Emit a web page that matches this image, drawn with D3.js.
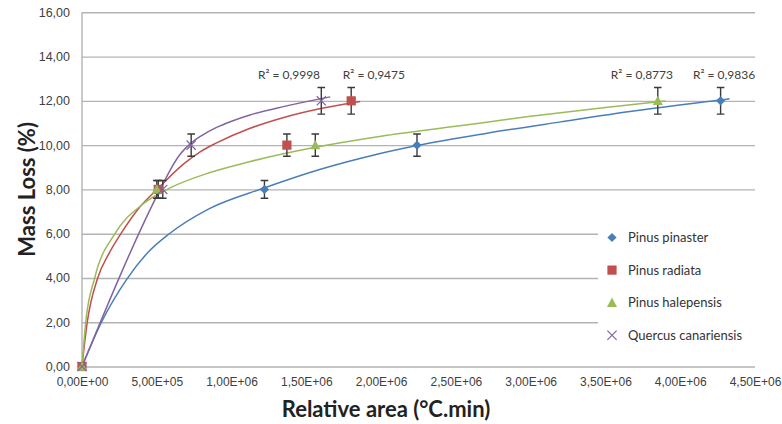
<!DOCTYPE html>
<html>
<head>
<meta charset="utf-8">
<script src="https://cdn.jsdelivr.net/npm/d3@7"></script>
<style>
  html, body { margin: 0; padding: 0; background: #fff; }
  svg { display: block; font-family: Lato, "Open Sans", sans-serif; }
</style>
</head>
<body>
<svg id="chart" width="782" height="424"></svg>
<script>
// ---------------- DATA ----------------
const seriesNames = ["Pinus pinaster", "Pinus radiata", "Pinus halepensis", "Quercus canariensis"];
const massLoss = [0, 8, 10, 12];                 // y values shared by all series (%)
const errorBars = [0, 0.4, 0.5, 0.6];            // ± error (%)
const areaPinaster   = [0, 1.22e6, 2.24e6, 4.27e6];
const areaRadiata    = [0, 0.51e6, 1.37e6, 1.80e6];
const areaHalepensis = [0, 0.50e6, 1.56e6, 3.85e6];
const areaQuercus    = [0, 0.54e6, 0.73e6, 1.60e6];

// trendline curves as [area, mass loss]
const trendPinaster = [[0,0],[0.13e6,2.0],[0.30e6,3.95],[0.44e6,5.15],[0.588e6,6.02],[0.842e6,7.1],
  [1.217e6,8.06],[1.6e6,8.92],[1.926e6,9.51],[2.24e6,9.98],[2.7e6,10.53],[3.2e6,11.05],[3.7e6,11.55],
  [4.27e6,12.04],[4.33e6,12.09]];
const trendRadiata = [[0,0],[0.035e6,2.0],[0.105e6,4.0],[0.18e6,5.1],[0.26e6,6.0],[0.38e6,7.15],
  [0.51e6,8.05],[0.68e6,9.15],[0.79e6,9.7],[0.90e6,10.1],[1.12e6,10.75],[1.35e6,11.25],[1.58e6,11.63],
  [1.86e6,11.97]];
const trendHalepensis = [[0,0],[0.025e6,2.0],[0.085e6,4.0],[0.22e6,6.0],[0.40e6,7.3],[0.60e6,8.1],
  [0.85e6,8.75],[1.12e6,9.25],[1.56e6,9.9],[2.0e6,10.4],[2.5e6,10.85],[3.0e6,11.3],[3.5e6,11.7],
  [3.9e6,12.0]];
const trendQuercus = [[0,0],[0.53e6,8.1],[0.60e6,9.0],[0.66e6,9.62],[0.727e6,10.08],[0.80e6,10.43],
  [0.90e6,10.8],[1.0e6,11.08],[1.123e6,11.36],[1.346e6,11.74],[1.6e6,12.1],[1.66e6,12.18]];

const rSquared = ["0,9836", "0,9475", "0,8773", "0,9998"];
const rLabelArea = [4.293e6, 1.952e6, 3.744e6, 1.384e6];   // where each R² label sits (x)
const rLabelMass = 13.17;                                  // label height (y)

const xTicks = [0, 5e5, 1e6, 1.5e6, 2e6, 2.5e6, 3e6, 3.5e6, 4e6, 4.5e6];
const xTickLabels = ["0,00E+00","5,00E+05","1,00E+06","1,50E+06","2,00E+06","2,50E+06","3,00E+06","3,50E+06","4,00E+06","4,50E+06"];
const yTicks = [0, 2, 4, 6, 8, 10, 12, 14, 16];
const yTickLabels = ["0,00","2,00","4,00","6,00","8,00","10,00","12,00","14,00","16,00"];

// ---------------- LAYOUT ----------------
const W = 782, H = 424;
const margin = { left: 82, right: 27, top: 12.3, bottom: 57.5 };
const colors = ["#4a7ebb", "#c0504d", "#9bbb59", "#8064a2"];
const shapes = ["diamond", "square", "triangle", "cross"];
const areas = [areaPinaster, areaRadiata, areaHalepensis, areaQuercus];
const trends = [trendPinaster, trendRadiata, trendHalepensis, trendQuercus];

const svg = d3.select("#chart");
svg.append("rect").attr("width", W).attr("height", H).attr("fill", "#fff");

const x = d3.scaleLinear().domain([0, 4.5e6]).range([margin.left, W - margin.right]);
const y = d3.scaleLinear().domain([0, 16]).range([H - margin.bottom, margin.top]);

// gridlines + y axis labels
const yAxis = d3.axisLeft(y).tickValues(yTicks)
  .tickSize(-(x.range()[1] - x.range()[0]))
  .tickPadding(12)
  .tickFormat((d, i) => yTickLabels[i]);
const gy = svg.append("g").attr("transform", `translate(${margin.left},0)`).call(yAxis);
gy.select(".domain").remove();
gy.selectAll(".tick line").attr("stroke", "#b3b3b3").attr("stroke-width", 1.4);
gy.selectAll(".tick text").attr("fill", "#404040").style("font-size", "12.5px").attr("x", -12);

// vertical axis line
svg.append("line").attr("x1", x(0)).attr("x2", x(0)).attr("y1", y(16)).attr("y2", y(0))
  .attr("stroke", "#b3b3b3").attr("stroke-width", 1.4);

// x axis labels
const xAxis = d3.axisBottom(x).tickValues(xTicks).tickSize(0).tickPadding(11)
  .tickFormat((d, i) => xTickLabels[i]);
const gx = svg.append("g").attr("transform", `translate(0,${y(0)})`).call(xAxis);
gx.select(".domain").remove();
gx.selectAll(".tick text").attr("fill", "#404040").style("font-size", "12px");

// axis titles
svg.append("text").attr("x", 386).attr("y", 417).attr("text-anchor", "middle")
  .style("font-size", "22px").style("font-weight", "bold").attr("fill", "#222")
  .text("Relative area (°C.min)");
svg.append("text").attr("transform", `translate(35,${(y(0) + y(16)) / 2}) rotate(-90)`)
  .attr("text-anchor", "middle").style("font-size", "22px").style("font-weight", "bold").attr("fill", "#222")
  .text("Mass Loss (%)");

// trendlines
const line = d3.line().x(d => x(d[0])).y(d => y(d[1])).curve(d3.curveMonotoneX);
trends.forEach((t, i) => {
  svg.append("path").datum(t).attr("d", line).attr("fill", "none")
    .attr("stroke", colors[i]).attr("stroke-width", 1.5);
});

// marker drawing
function drawMarker(g, shape, color, cx, cy) {
  const s = 4.6;
  if (shape === "diamond") {
    g.append("path").attr("d", `M${cx},${cy - s}L${cx + s},${cy}L${cx},${cy + s}L${cx - s},${cy}Z`).attr("fill", color);
  } else if (shape === "square") {
    g.append("rect").attr("x", cx - s).attr("y", cy - s).attr("width", 2 * s).attr("height", 2 * s).attr("fill", color);
  } else if (shape === "triangle") {
    g.append("path").attr("d", `M${cx},${cy - s - 0.6}L${cx + s + 0.4},${cy + s - 0.4}L${cx - s - 0.4},${cy + s - 0.4}Z`).attr("fill", color);
  } else {
    g.append("path").attr("d", `M${cx - s},${cy - s}L${cx + s},${cy + s}M${cx - s},${cy + s}L${cx + s},${cy - s}`)
      .attr("stroke", color).attr("stroke-width", 1.2).attr("fill", "none");
  }
}

// error bars and markers
areas.forEach((a, i) => {
  const g = svg.append("g");
  a.forEach((v, j) => {
    const e = errorBars[j];
    if (e > 0) {
      const cx = x(v), y1 = y(massLoss[j] + e), y2 = y(massLoss[j] - e);
      g.append("path").attr("d", `M${cx},${y1}L${cx},${y2}M${cx - 3.8},${y1}L${cx + 3.8},${y1}M${cx - 3.8},${y2}L${cx + 3.8},${y2}`)
        .attr("stroke", "#3a3a3a").attr("stroke-width", 1.4).attr("fill", "none");
    }
  });
});
areas.forEach((a, i) => {
  const g = svg.append("g");
  a.forEach((v, j) => drawMarker(g, shapes[i], colors[i], x(v), y(massLoss[j])));
});

// R² labels
rSquared.forEach((r, i) => {
  svg.append("text").attr("x", x(rLabelArea[i])).attr("y", y(rLabelMass) + 4.5)
    .attr("text-anchor", "middle").style("font-size", "12px").attr("fill", "#404040")
    .text("R² = " + r);
});

// legend
const lg = svg.append("g");
lg.append("rect").attr("x", 598).attr("y", 220).attr("width", 172).attr("height", 130).attr("fill", "#fff");
seriesNames.forEach((n, i) => {
  const cy = 237.5 + i * 32.6;
  drawMarker(lg, shapes[i], colors[i], 612, cy);
  lg.append("text").attr("x", 628).attr("y", cy + 4.5).style("font-size", "13px").attr("fill", "#333").text(n);
});
</script>
</body>
</html>
